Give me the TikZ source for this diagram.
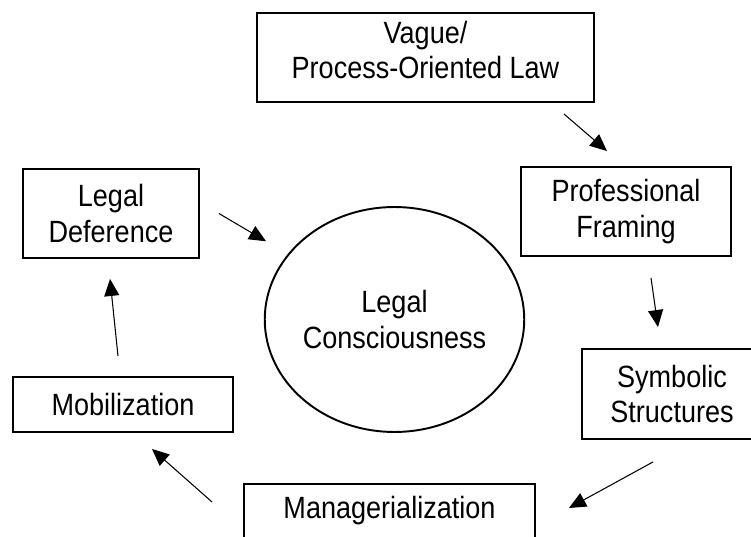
\documentclass[tikz,border=0pt]{standalone}
\usepackage{fontspec}
\setmainfont{Liberation Sans}[FakeStretch=0.88]
\usetikzlibrary{shapes.geometric, arrows.meta}

\begin{document}
\begin{tikzpicture}[
    x=0.02cm, y=-0.02cm,
    box/.style={rectangle, draw, line width=1.1pt, align=center, inner sep=2pt, font=\fontsize{17.5}{20}\selectfont},
    hub/.style={ellipse, draw, line width=1.1pt, align=center, inner sep=0pt, minimum width=4.86cm, minimum height=4.5cm, font=\fontsize{17.5}{20.5}\selectfont},
    arrow/.style={-{Triangle[length=0.34cm, width=0.3cm]}, line width=0.6pt},
]
\useasboundingbox (0,0) rectangle (751,537);
\clip (0,0) rectangle (751,537);

% Nodes
\node[hub] (legal) at (394.5,319.5) {Legal\\Consciousness};
\node[box, minimum width=6.74cm, minimum height=1.78cm] (vague) at (425.5,57.5) {Vague/\\Process-Oriented Law\rule[-0.32cm]{0pt}{0pt}};
\node[box, minimum width=4.2cm, minimum height=1.78cm] (framing) at (626,211.5) {Professional\\Framing};
\node[box, minimum width=3.6cm, minimum height=1.8cm] (symbolic) at (672,394) {Symbolic\\Structures};
\node[box, minimum width=5.82cm, minimum height=1.08cm] (manager) at (389.5,511) {Managerialization};
\node[box, minimum width=4.4cm, minimum height=1.1cm] (mobil) at (123,404.5) {Mobilization};
\node[box, minimum width=3.52cm, minimum height=1.78cm] (deference) at (111,213.5) {Legal\\Deference};

% Arrows
\draw[arrow] ([shift={(-31,11)}]vague.south east) -- ([shift={(-19,-15)}]framing.north);
\draw[arrow] ([shift={(25,21)}]framing.south) -- ([shift={(-14,-21)}]symbolic.north);
\draw[arrow] ([shift={(-19,22)}]symbolic.south) -- ([shift={(33,-3)}]manager.east);
\draw[arrow] ([shift={(-31,-9)}]manager.west) -- ([shift={(29,16)}]mobil.south);
\draw[arrow] ([shift={(-5,-20)}]mobil.north) -- ([shift={(-1,20)}]deference.south);
\draw[arrow] ([shift={(19,0)}]deference.east) -- ([shift={(-36,2)}]legal.north west);

\end{tikzpicture}
\end{document}
